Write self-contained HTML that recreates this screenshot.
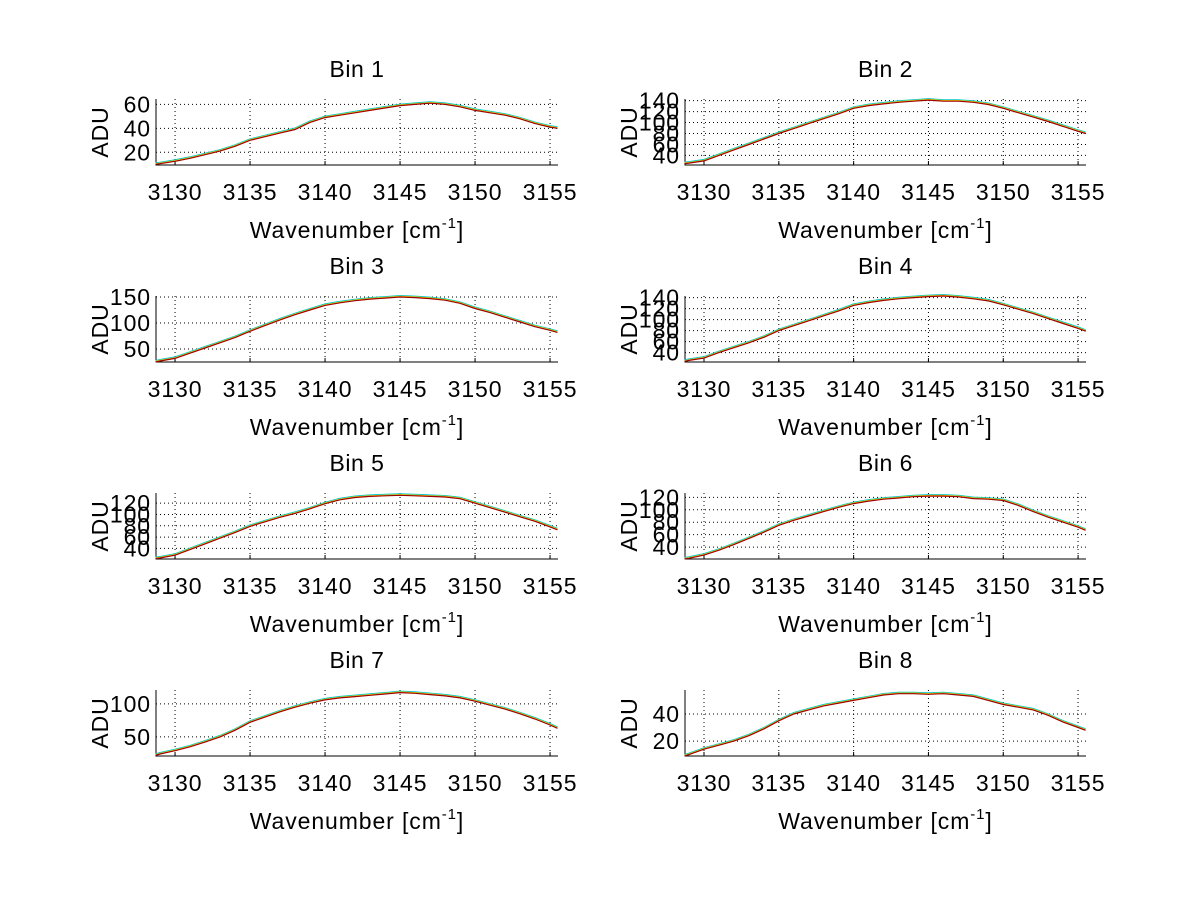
<!DOCTYPE html>
<html><head><meta charset="utf-8">
<style>
html,body{margin:0;padding:0;background:#fff;}
svg{display:block;font-family:"Liberation Sans",Arial,sans-serif;}
</style></head>
<body>
<svg id="fig" width="1200" height="901" viewBox="0 0 1200 901" xmlns="http://www.w3.org/2000/svg">
<rect width="1200" height="901" fill="#fff"/>
</svg>
<script>
const wavenumbers = [3128.7,3129,3130,3131,3132,3133,3134,3135,3136,3137,3138,3139,3140,3141,3142,3143,3144,3145,3146,3147,3148,3149,3150,3151,3152,3153,3154,3155,3155.5];
const xTicks = [3130,3135,3140,3145,3150,3155];
const bin1 = [10,10.5,12.5,15,18,21,25,30,33,36,39,45,49,51,53,55,57,59,60,61,60,58,55,53,51,48,44,41,40];
const bin2 = [25,26,30,40,50,60,70,80,89,98,107,116,126,131,134,137,139,141,139,139,137,133,126,118,110,102,93,84,80];
const bin3 = [25,27,32,42,52,62,72,84,95,106,116,125,134,139,143,146,148,150,149,147,144,138,128,120,111,102,93,86,82];
const bin4 = [24,26,30,40,49,58,68,80,89,98,107,116,126,131,135,138,140,142,143,141,138,134,127,119,111,102,93,84,79];
const bin5 = [22,23,28,38,48,58,68,79,87,95,102,110,119,126,130,132,133,134,133,132,131,128,120,112,104,96,88,78,73];
const bin6 = [21,22,27,35,44,54,64,75,83,90,97,104,110,114,117,119,121,122,122,121,118,117,115,107,97,88,80,72,67];
const bin7 = [22,24,29,35,42,50,60,72,80,88,95,101,106,109,111,113,115,117,116,114,112,109,104,98,92,85,77,68,63];
const bin8 = [9,10,14,17,20,24,29,35,40,43,46,48,50,52,54,55,55,54.5,55,54,53,50,47,45,43,39,34,30,28];
const yRanges = [[9.4,64.5],[22.5,143],[25,152],[23,143],[21.3,138],[20.8,127],[21,121],[9,57.7]];
const yTicks1 = [20,40,60];
const yTicks2 = [40,60,80,100,120,140];
const yTicks3 = [50,100,150];
const yTicks4 = [40,60,80,100,120,140];
const yTicks5 = [40,60,80,100,120];
const yTicks6 = [40,60,80,100,120];
const yTicks7 = [50,100];
const yTicks8 = [20,40];
const binTitles = ["Bin 1","Bin 2","Bin 3","Bin 4","Bin 5","Bin 6","Bin 7","Bin 8"];

const series = [bin1,bin2,bin3,bin4,bin5,bin6,bin7,bin8];
const ticksAll = [yTicks1,yTicks2,yTicks3,yTicks4,yTicks5,yTicks6,yTicks7,yTicks8];
const NS = "http://www.w3.org/2000/svg";
const svg = document.getElementById('fig');
const XMIN = 3128.73, XMAX = 3155.53;
const FS = 23, LS = '0.9px';
function mk(tag, attrs, parent){ const e=document.createElementNS(NS,tag); for(const k in attrs) e.setAttribute(k,attrs[k]); parent.appendChild(e); return e; }

for(let i=0;i<8;i++){
  const col=i%2, row=Math.floor(i/2);
  const x0 = col===0?156:685, x1 = col===0?558:1086;
  const y0 = 99+row*197, y1 = y0+66;
  const [ymin,ymax]=yRanges[i];
  const sx = v => x0+(v-XMIN)/(XMAX-XMIN)*(x1-x0);
  const sy = v => y1-(v-ymin)/(ymax-ymin)*(y1-y0);
  const g = mk('g',{},svg);
  
  
  xTicks.forEach(t=>{
    const l=mk('line',{x1:sx(t),x2:sx(t),y1:y0,y2:y1,stroke:'#000','stroke-width':1,'stroke-dasharray':'1,3'},g);
    
    
    const tk=mk('line',{x1:sx(t),x2:sx(t),y1:y1,y2:y1-4,stroke:'#000','stroke-width':1},g);
    
    
    const tx=mk('text',{x:sx(t),y:y1+35,'font-size':FS,'letter-spacing':LS,'text-anchor':'middle'},g);
    tx.textContent=t;
    
    
  });
  ticksAll[i].forEach(t=>{
    const l=mk('line',{x1:x0,x2:x1,y1:sy(t),y2:sy(t),stroke:'#000','stroke-width':1,'stroke-dasharray':'1,3'},g);
    
    
    const tx=mk('text',{x:x0-5,y:sy(t)+8,'font-size':FS,'letter-spacing':LS,'text-anchor':'end'},g);
    tx.textContent=t;
    
    
  });
  const ax=mk('path',{d:`M${x0},${y0}V${y1}H${x1}`,fill:'none',stroke:'#000','stroke-width':1},g);
  
  
  const data=series[i];
  const ptsOf = off => data.map((v,k)=>`${sx(wavenumbers[k]).toFixed(1)},${(sy(v)+off).toFixed(1)}`).join(' ');
  const c=mk('polyline',{points:ptsOf(-1.5),fill:'none',stroke:'#00c8d0','stroke-width':1},g);
  
  
  const yl=mk('polyline',{points:ptsOf(-0.7),fill:'none',stroke:'#e8d000','stroke-width':1},g);
  
  
  const r=mk('polyline',{points:ptsOf(0),fill:'none',stroke:'#a00000','stroke-width':1.2},g);
  
  
  const tt=mk('text',{x:(x0+x1)/2,y:y0-22,'font-size':FS,'letter-spacing':'0.5px','text-anchor':'middle'},g);
  tt.textContent=binTitles[i];
  
  
  const xl=mk('text',{x:(x0+x1)/2,y:y1+73,'font-size':FS,'letter-spacing':LS,'text-anchor':'middle'},g);
  xl.innerHTML='Wavenumber [cm<tspan dy="-10" font-size="15">-1</tspan><tspan dy="10">]</tspan>';
  
  
  const yx = x0-48, yc=(y0+y1)/2;
  const ylb=mk('text',{x:yx,y:yc,'font-size':FS,'letter-spacing':LS,'text-anchor':'middle',transform:`rotate(-90 ${yx} ${yc})`},g);
  ylb.textContent='ADU';
  
  
}
</script>
</body></html>
